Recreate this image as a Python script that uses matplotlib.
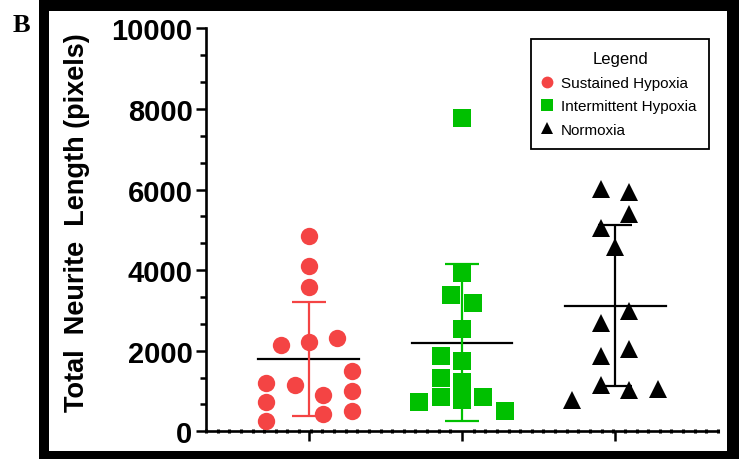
import numpy as np
import matplotlib
matplotlib.use("Agg")
import matplotlib.pyplot as plt
from matplotlib.patches import Rectangle
from matplotlib.lines import Line2D

# groups
groups = ["Sustained Hypoxia", "Intermittent Hypoxia", "Normoxia"]
colors = ["#F44444", "#00C000", "#000000"]
markers = ["o", "s", "^"]

# values (pixels) and their swarm column in each group
sustained = [4850, 4113, 3590, 2148, 2222, 2305, 1194, 1144, 1492, 730, 895, 995, 265, 440, 497]
sustained_col = [0, 0, 0, -2, 0, 2, -3, -1, 3, -3, 1, 3, -3, 1, 3]
intermittent = [7786, 3930, 3391, 3184, 2537, 1874, 1749, 1326, 1219, 771, 853, 729, 853, 505]
intermittent_col = [0, 0, -1, 1, 0, -2, 0, -2, 0, 0, -2, -4, 2, 4]
normoxia = [6003, 5937, 5381, 5050, 4570, 2993, 2687, 2040, 1858, 1152, 1028, 1062, 771]
normoxia_col = [-1, 1, 1, -1, 0, 1, -1, 1, -1, -1, 1, 3, -3]

yticks = [0, 2000, 4000, 6000, 8000, 10000]

data = [sustained, intermittent, normoxia]
cols = [sustained_col, intermittent_col, normoxia_col]
col_step = [0.093, 0.07, 0.093]
msize = [12.5, 13, 13]

plt.rcParams["font.family"] = ["Liberation Sans", "DejaVu Sans"]

fig = plt.figure(figsize=(7.39, 4.6), dpi=100)
fig.patch.set_facecolor("white")

# thick black frame round the panel
W, H = 739.0, 460.0
fig.add_artist(Rectangle((39 / W, 0), 1 - 39 / W, 1, transform=fig.transFigure,
                         facecolor="black", edgecolor="none", zorder=-2))
fig.add_artist(Rectangle((49 / W, 8 / H), (727 - 49) / W, (450 - 10) / H,
                         transform=fig.transFigure, facecolor="white",
                         edgecolor="none", zorder=-1))
fig.text(13 / W, 1 - 26 / H, "B", family="Liberation Serif", fontweight="bold",
         fontsize=19, va="center", ha="left")

ax = fig.add_axes([206 / W, 1 - 432.3 / H, 512 / W, 403 / H])
ax.set_facecolor("none")

xpos = np.arange(1, len(groups) + 1)
for i in range(len(groups)):
    vals = np.array(data[i], dtype=float)
    xs = xpos[i] + np.array(cols[i]) * col_step[i]
    ax.plot(xs, vals, linestyle="none", marker=markers[i], color=colors[i],
            markersize=msize[i], markeredgewidth=0, zorder=2)
    m = vals.mean()
    sd = vals.std(ddof=1)
    ax.plot([xpos[i] - 0.33, xpos[i] + 0.33], [m, m], color="black", lw=1.6, zorder=3)
    ax.errorbar(xpos[i], m, yerr=sd, color=colors[i], capsize=12, capthick=1.6,
                elinewidth=1.6, zorder=3)

ax.set_xlim(0.327, 3.673)
ax.set_ylim(0, 10000)
ax.set_yticks(yticks)
ax.set_yticks(np.arange(0, 10001, 2000 / 3), minor=True)
ax.set_xticks(xpos)
ax.set_xticklabels([])
ax.set_xticks(np.linspace(0.327, 3.673, 45), minor=True)

for s in ["top", "right"]:
    ax.spines[s].set_visible(False)
for s in ["left", "bottom"]:
    ax.spines[s].set_linewidth(1.9)

ax.tick_params(axis="y", which="major", length=7.2, width=1.8, pad=2.5, labelsize=21)
ax.tick_params(axis="y", which="minor", length=4.5, width=1.8)
ax.tick_params(axis="x", which="major", length=7.2, width=1.8)
ax.tick_params(axis="x", which="minor", direction="inout", length=3.5, width=2.2)
for lab in ax.get_yticklabels():
    lab.set_fontweight("bold")

ax.set_ylabel("Total  Neurite  Length (pixels)", fontsize=19.5, fontweight="bold")
ax.yaxis.set_label_coords(-0.227, 0.52)

handles = [Line2D([], [], linestyle="none", marker=markers[i], color=colors[i],
                  markersize=8.5, markeredgewidth=0) for i in range(len(groups))]
leg = ax.legend(handles, groups, title="Legend", loc="upper right",
                bbox_to_anchor=(0.982, 0.973), borderaxespad=0, fontsize=11,
                title_fontsize=12, fancybox=False, framealpha=1,
                edgecolor="black", borderpad=0.8, labelspacing=0.62,
                handlelength=0.4, handletextpad=0.75)
leg.get_frame().set_linewidth(1.3)

fig.savefig("out.png", dpi=100)
